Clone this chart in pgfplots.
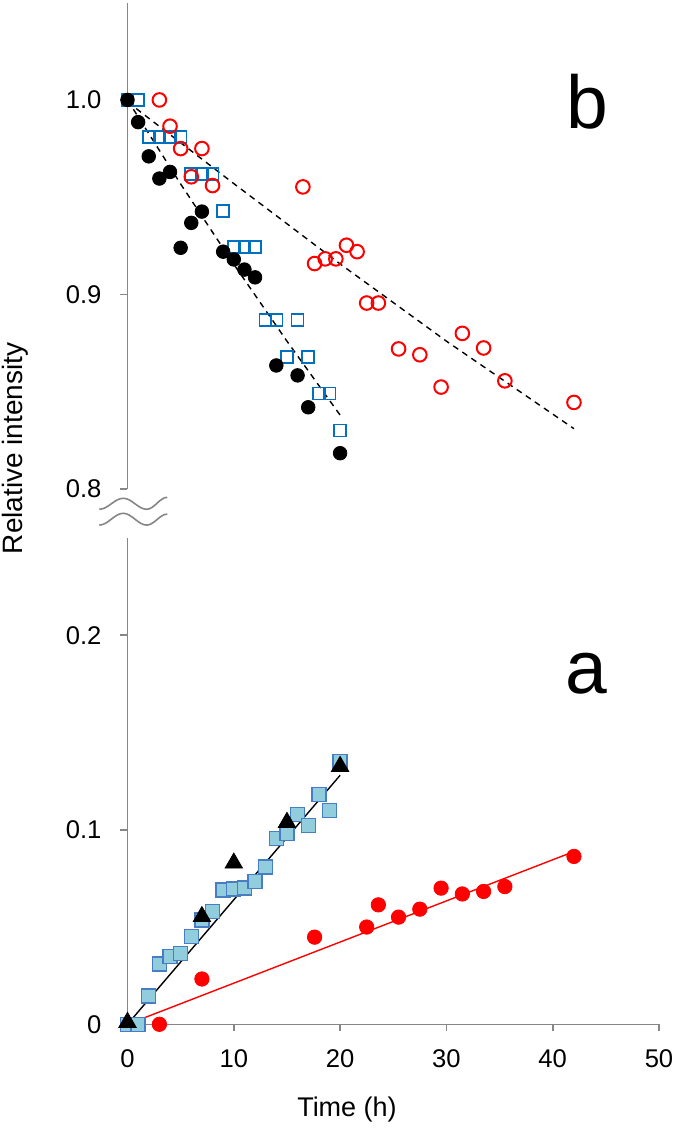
\documentclass[border=0pt]{standalone}
\usepackage{pgfplots}
\pgfplotsset{compat=1.18}
\usepackage{fontspec}
\setmainfont{Liberation Sans}
\definecolor{axgray}{RGB}{134,134,134}
\definecolor{sqblue}{RGB}{0,112,192}
\definecolor{lbfill}{RGB}{146,205,221}
\definecolor{lbedge}{RGB}{70,125,195}
\definecolor{myred}{RGB}{255,0,0}
\begin{document}
\begin{tikzpicture}
\useasboundingbox (-63.75pt,-51.85pt) rectangle (273.75pt,512.15pt);
\pgfplotsset{
  every axis/.append style={
    scale only axis, width=265.75pt, height=243.15pt,
    xmin=0, xmax=50, clip=false,
    axis line style={axgray, line width=0.8pt, -},
    major tick style={axgray, line width=0.8pt},
    major tick length=3.5pt,
    tick align=outside,
    ticklabel style={font=\fontsize{12.8}{14}\selectfont},
    /pgf/number format/assume math mode=true,
    scaled ticks=false,
  }
}
% ---------- bottom panel (a) ----------
\begin{axis}[
  at={(0pt,0pt)}, anchor=origin,
  ymin=0, ymax=0.25,
  axis x line*=bottom, axis y line*=left,
  xtick={0,10,20,30,40,50},
  ytick={0,0.1,0.2},
  yticklabel style={xshift=-6pt},
  xticklabel style={yshift=-5.5pt},
]
\addplot[only marks, mark=square*, mark size=3.5pt, mark options={fill=lbfill, draw=lbedge, line width=0.7pt}] coordinates {
(0,0)(1,0)(2,0.0146)(3,0.0309)(4,0.0348)(5,0.0365)(6,0.045)(7,0.0537)(8,0.058)(9,0.069)(10,0.0695)(11,0.070)(12,0.0734)(13,0.0808)(14,0.0954)(15,0.098)(16,0.1079)(17,0.1022)(18,0.118)(19,0.1099)(20,0.135)};
\addplot[only marks, mark=*, mark size=3.6pt, mark options={fill=myred, draw=myred}] coordinates {
(3,0)(7,0.0233)(17.6,0.0448)(22.5,0.050)(23.6,0.0614)(25.5,0.0551)(27.5,0.0592)(29.5,0.070)(31.5,0.067)(33.5,0.0683)(35.5,0.0708)(42,0.0863)};
\addplot[myred, line width=0.7pt, no marks] coordinates {(0,0)(42,0.0888)};
\addplot[black, line width=0.7pt, no marks] coordinates {(0,0)(20,0.128)};
\addplot[only marks, mark=triangle*, mark size=5pt, mark options={fill=black, draw=black}] coordinates {
(0,0.001)(7,0.0554)(10,0.0829)(15,0.1038)(20,0.1326)};
\node[font=\fontsize{37.5}{40}\selectfont] at (axis cs:43.2,0.18) {a};
\end{axis}
% ---------- top panel (b) ----------
\begin{axis}[
  at={(0pt,267.65pt)}, anchor=origin,
  ymin=0.8, ymax=1.05,
  hide x axis, axis y line*=left,
  ytick={0.8,0.9,1.0},
  yticklabel style={xshift=-6pt, /pgf/number format/fixed, /pgf/number format/fixed zerofill, /pgf/number format/precision=1},
]
\addplot[black, dash pattern=on 3pt off 2.5pt, line width=0.7pt, no marks] coordinates {
(0,1.0)(5,0.9568)(10,0.9155)(15,0.876)(20,0.838)};
\addplot[black, dash pattern=on 3pt off 2.5pt, line width=0.7pt, no marks] coordinates {
(0,0.999)(10,0.957)(20,0.9157)(30,0.876)(42,0.831)};
\addplot[only marks, mark=square, mark size=3pt, mark options={draw=sqblue, line width=0.8pt}] coordinates {
(0,1.0)(1,1.0)(2,0.981)(3,0.981)(4,0.981)(5,0.981)(6,0.962)(7,0.962)(8,0.962)(9,0.943)(10,0.9245)(11,0.9245)(12,0.9245)(13,0.887)(14,0.887)(16,0.887)(15,0.868)(17,0.868)(18,0.849)(19,0.849)(20,0.830)};
\addplot[only marks, mark=o, mark size=3.4pt, mark options={draw=myred, line width=1pt}] coordinates {
(3,1.0)(4,0.9865)(5,0.975)(7,0.975)(6,0.9605)(8,0.956)(16.5,0.9553)(17.6,0.9159)(18.6,0.9183)(19.6,0.9183)(20.6,0.9253)(21.6,0.922)(22.5,0.8956)(23.6,0.8956)(25.5,0.872)(27.5,0.869)(29.5,0.8524)(31.5,0.880)(33.5,0.8725)(35.5,0.8556)(42,0.8445)};
\addplot[only marks, mark=*, mark size=3.4pt, mark options={fill=black, draw=black}] coordinates {
(0,1.0)(1,0.9886)(2,0.971)(3,0.9596)(4,0.963)(5,0.924)(6,0.9368)(7,0.9426)(9,0.922)(10,0.918)(11,0.9128)(12,0.9088)(14,0.8635)(16,0.8584)(17,0.842)(20,0.8184)};
\node[font=\fontsize{37.5}{40}\selectfont] at (axis cs:43.3,0.999) {b};
\end{axis}
% axis break marks
\draw[axgray, line width=0.8pt] (-14.1pt,257.5pt) cos (-8.1pt,260.25pt) sin (-2.1pt,263pt) cos (3.75pt,260.25pt) sin (9.6pt,257.5pt) cos (14.75pt,260.5pt) sin (19.9pt,263.5pt);
\draw[axgray, line width=0.8pt] (-14.1pt,249.6pt) cos (-8.1pt,252.55pt) sin (-2.1pt,255.5pt) cos (3.75pt,252.55pt) sin (9.6pt,249.6pt) cos (14.75pt,252.35pt) sin (19.9pt,255.1pt);
% axis labels
\node[rotate=90, font=\fontsize{14}{15}\selectfont] at (-56.25pt,288pt) {Relative intensity};
\node[font=\fontsize{13.5}{15}\selectfont] at (109.75pt,-42.85pt) {Time (h)};
\end{tikzpicture}
\end{document}
